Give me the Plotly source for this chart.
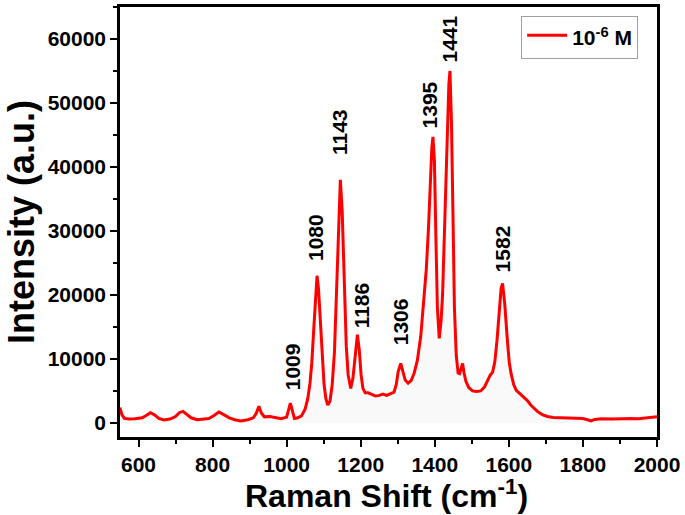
import plotly.graph_objects as go

# Raman spectrum
shift = [550, 555, 562, 575, 590, 610, 622, 632, 642, 655, 668, 685, 700, 710, 720, 730, 742, 758,
         775, 790, 805, 817, 830, 845, 860, 876, 895, 910, 918, 925, 932, 940, 955, 970, 985, 1000,
         1005, 1010, 1015, 1021, 1030, 1040, 1050, 1057, 1063, 1068, 1073, 1078, 1082, 1086, 1091,
         1096, 1101, 1106, 1111, 1117, 1123, 1129, 1134, 1139, 1145, 1150, 1155, 1161, 1166, 1173,
         1179, 1185, 1191, 1196, 1201, 1206, 1212, 1220, 1230, 1240, 1250, 1260, 1270, 1280, 1290,
         1296, 1301, 1308, 1314, 1320, 1328, 1336, 1344, 1353, 1362, 1370, 1377, 1383, 1388, 1392,
         1395, 1399, 1403, 1407, 1412, 1417, 1421, 1426, 1431, 1435, 1438, 1441, 1445, 1449, 1453,
         1458, 1463, 1467, 1471, 1475, 1479, 1484, 1492, 1502, 1512, 1524, 1534, 1542, 1550, 1556,
         1562, 1568, 1574, 1579, 1583, 1589, 1596, 1601, 1606, 1613, 1620, 1630, 1641, 1650, 1659,
         1668, 1677, 1690, 1704, 1720, 1750, 1780, 1800, 1812, 1822, 1832, 1850, 1880, 1900, 1930,
         1950, 1970, 1990, 2000]
intensity = [2400, 1300, 700, 600, 650, 800, 1200, 1600, 1300, 700, 450, 600, 1000, 1600, 1800, 1400,
             800, 500, 600, 700, 1200, 1700, 1300, 800, 500, 300, 500, 800, 1500, 2600, 1500, 950,
             1000, 800, 650, 900, 2000, 3100, 2000, 700, 800, 1100, 2200, 3800, 6200, 9500, 14500,
             20500, 23000, 21000, 15500, 9500, 6000, 3800, 2800, 3400, 6000, 11000, 19000, 30000,
             38000, 33000, 23000, 12000, 7500, 5400, 7000, 11000, 13800, 11500, 7500, 5400, 4700,
             4700, 4400, 4200, 4300, 4500, 4300, 4500, 4800, 6000, 8000, 9300, 8000, 6700, 6200,
             6600, 7700, 9800, 13500, 18500, 24000, 30500, 38000, 43000, 44700, 41000, 29000, 18000,
             13200, 16000, 20000, 30000, 40000, 48000, 53000, 55000, 47000, 33000, 18000, 10500,
             7800, 7700, 8600, 9300, 7800, 6500, 5500, 5000, 4900, 5000, 5600, 6600, 7500, 7900,
             9500, 12900, 17500, 21000, 21800, 18500, 12900, 9500, 7700, 6000, 5100, 4600, 4100,
             3500, 2800, 2300, 1800, 1300, 1000, 850, 780, 750, 700, 500, 300, 550, 650, 600, 650,
             700, 650, 800, 850, 950]

# Peak labels and where they sit
peak_labels = ["1009", "1080", "1143", "1186", "1306", "1395", "1441", "1582"]
label_x = [1015, 1078, 1141, 1203, 1308, 1385, 1439, 1583]
label_y = [4740, 25000, 41530, 14440, 11860, 45670, 55980, 23220]

x_ticks = [600, 800, 1000, 1200, 1400, 1600, 1800, 2000]
y_ticks = [0, 10000, 20000, 30000, 40000, 50000, 60000]

FONT = "Liberation Sans, Arial, sans-serif"

fig = go.Figure()
fig.add_trace(go.Scatter(
    x=shift, y=intensity, mode="lines", name="10<sup>-6</sup> M",
    line=dict(color="#ff0000", width=3),
    fill="tozeroy", fillcolor="rgba(0,0,0,0.025)",
))

for t, lx, ly in zip(peak_labels, label_x, label_y):
    fig.add_annotation(x=lx, y=ly, text=t, textangle=-90, showarrow=False,
                       xanchor="center", yanchor="bottom",
                       font=dict(family=FONT, size=21, color="black", weight="bold"))

# x-axis title as an annotation placed just below the tick labels
fig.add_annotation(x=0.496, y=0, xref="paper", yref="paper", xanchor="center", yanchor="top",
                   yshift=-35, showarrow=False, text="Raman Shift (cm<sup>-1</sup>)",
                   font=dict(family=FONT, size=32, color="black", weight="bold"))

axis_common = dict(
    showline=True, linecolor="black", linewidth=2.5, mirror=True,
    ticks="outside", ticklen=7, tickwidth=2, tickcolor="black",
    showgrid=False, zeroline=False,
    tickfont=dict(family=FONT, size=21, color="black", weight="bold"),
)

fig.update_xaxes(
    range=[550, 2000], tickvals=x_ticks, ticktext=[str(v) for v in x_ticks], **axis_common,
    minor=dict(ticks="outside", ticklen=4, tickwidth=2, tickcolor="black", dtick=100, tick0=500),
)
fig.update_yaxes(
    range=[-2200, 65000], tickvals=y_ticks, ticktext=[str(v) for v in y_ticks], **axis_common,
    minor=dict(ticks="outside", ticklen=4, tickwidth=2, tickcolor="black", dtick=5000, tick0=0),
    title=dict(text="Intensity (a.u.)", standoff=3,
               font=dict(family=FONT, size=36, color="black", weight="bold")),
)

fig.update_layout(
    width=685, height=515,
    margin=dict(l=120, r=28, t=4, b=78),
    paper_bgcolor="white", plot_bgcolor="white",
    showlegend=True,
    legend=dict(x=0.747, y=0.979, xanchor="left", yanchor="top", itemwidth=40,
                bordercolor="#a0a0a0", borderwidth=1, bgcolor="white",
                font=dict(family=FONT, size=21, color="black", weight="bold")),
)

fig.write_html("out.html", config={"displayModeBar": False},
               post_script="document.body.style.margin='0';")
